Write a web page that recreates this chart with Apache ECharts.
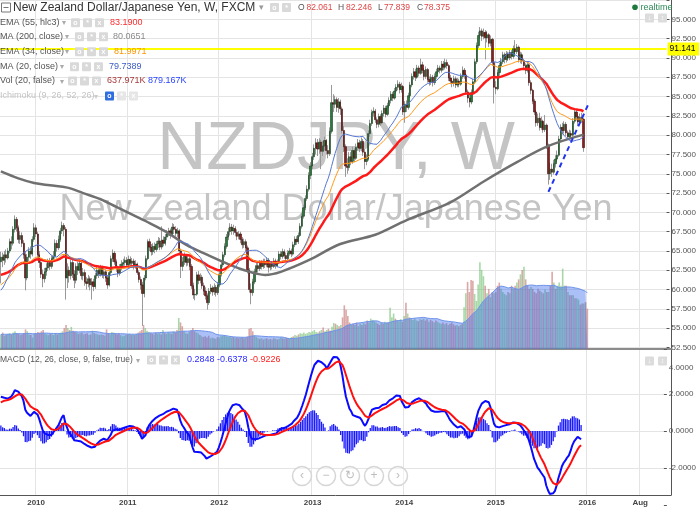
<!DOCTYPE html>
<html>
<head>
<meta charset="utf-8">
<script src="https://cdn.jsdelivr.net/npm/echarts@6/dist/echarts.min.js"></script>
<style>
html,body{margin:0;padding:0;background:#fff;}
#main{width:699px;height:507px;}
</style>
</head>
<body>
<div id="main"></div>
<script>
// weekly NZD/JPY, first bar = week of 2009-08-17
var startDate = Date.UTC(2009, 7, 17);
var nCats = 381;

var closes = [
  64.2,63.8,64.5,64.1,65.0,66.2,66.0,67.8,69.1,68.0,
  66.5,67.0,66.0,64.5,61.5,64.2,65.0,64.6,66.5,68.0,
  67.2,64.5,63.5,62.0,61.4,62.3,62.8,63.5,63.0,64.0,
  64.3,66.0,65.4,66.5,67.6,68.3,67.8,61.5,62.5,61.8,
  63.5,62.0,61.2,63.0,62.5,63.4,61.8,62.2,61.0,60.8,
  61.4,60.6,61.0,60.4,61.8,62.5,62.0,62.8,61.9,62.3,
  61.5,60.6,62.2,64.0,64.7,63.6,62.8,62.1,62.9,63.3,
  63.5,63.8,63.2,63.9,63.4,63.7,63.0,63.3,62.2,61.3,
  60.6,59.5,61.5,64.0,66.2,65.5,64.9,65.6,65.2,65.9,
  66.3,65.5,66.4,66.0,66.8,67.2,67.6,67.0,68.1,67.8,
  67.3,67.6,65.0,63.0,63.6,64.3,63.5,64.0,63.0,60.5,
  59.3,59.4,61.9,61.2,61.6,60.5,59.8,59.2,58.3,59.8,
  60.2,59.7,60.3,59.6,60.6,62.0,63.2,64.5,65.6,66.8,
  67.5,68.1,67.6,67.9,67.4,66.9,67.2,66.5,65.8,66.2,
  65.4,62.5,60.0,59.6,61.0,62.3,63.1,62.7,63.4,63.0,
  63.6,63.2,63.8,62.9,63.3,63.0,63.7,63.1,63.5,64.6,
  64.3,64.9,64.4,64.0,64.7,65.0,64.6,65.8,66.5,66.2,
  67.0,68.2,69.5,70.6,71.8,73.0,74.8,76.0,77.2,78.3,
  79.0,78.2,79.1,77.9,78.6,79.3,78.0,77.6,80.5,84.2,
  84.0,84.6,83.6,84.3,83.4,80.6,78.5,76.0,75.8,77.2,
  76.6,78.0,77.0,78.4,79.0,78.3,79.2,77.8,76.6,76.9,
  80.2,81.5,82.9,83.1,82.0,81.4,82.4,81.6,82.8,83.5,
  82.7,83.8,84.5,85.3,84.8,85.7,86.2,86.6,85.9,86.3,
  83.0,84.0,83.6,85.1,86.5,87.6,88.2,87.5,88.7,88.0,
  89.1,88.4,87.6,88.5,87.2,86.9,87.5,86.8,87.6,88.2,
  88.7,88.4,89.2,88.8,89.4,89.0,87.4,87.0,86.7,87.3,
  86.5,87.0,86.6,87.6,88.4,87.8,85.6,84.8,84.3,85.5,
  86.9,89.5,91.6,92.9,93.5,92.8,93.3,92.6,93.0,91.9,
  92.4,89.4,86.2,86.0,88.1,89.0,89.5,90.4,89.8,90.5,
  90.0,90.7,90.2,91.2,90.8,91.4,89.8,90.4,89.6,89.0,
  88.4,89.1,86.8,85.8,84.4,83.0,81.6,82.2,81.0,81.8,
  80.7,81.3,78.6,75.0,75.6,75.2,76.3,76.9,77.4,79.5,
  81.0,80.6,81.4,80.3,79.8,80.2,80.0,81.8,83.0,82.4,
  81.7,82.3,82.061,78.375
];
var highs = [
  64.9,64.8,65.0,65.2,65.4,66.6,66.9,68.2,69.6,69.4,
  68.3,67.6,67.4,66.4,64.9,64.6,65.5,65.6,66.9,68.6,
  68.4,67.5,65.0,63.9,62.6,62.8,63.4,64.0,64.1,64.4,
  65.0,66.5,66.4,67.0,68.0,68.8,68.6,68.1,63.4,63.0,
  63.9,64.0,62.5,63.4,63.6,63.9,63.7,62.8,62.6,61.6,
  61.9,61.7,61.5,61.4,62.2,63.0,62.9,63.2,63.1,62.8,
  62.6,61.9,62.6,64.4,65.2,65.0,63.9,63.1,63.3,63.8,
  64.0,64.3,64.2,64.4,64.3,64.1,64.0,63.8,63.5,62.5,
  61.7,61.0,61.9,64.4,66.5,66.6,65.9,66.0,66.1,66.3,
  66.8,66.7,68.2,66.9,67.2,67.7,68.0,67.9,68.6,68.5,
  68.2,68.0,67.8,65.3,64.2,64.8,64.6,64.5,64.3,63.3,
  60.9,60.1,62.3,62.4,62.1,61.9,60.9,60.3,59.5,60.2,
  60.7,60.5,60.8,60.6,61.0,62.4,63.6,64.9,66.0,67.2,
  68.0,68.6,68.5,68.4,68.2,67.8,67.6,67.5,66.8,66.6,
  66.5,65.7,62.8,60.8,61.4,62.7,63.5,63.5,63.8,63.8,
  64.0,64.0,64.2,64.1,63.7,63.7,64.1,64.0,63.9,65.0,
  65.0,65.3,65.2,64.8,65.1,65.4,65.3,66.2,66.9,66.9,
  67.4,68.6,69.9,71.0,72.2,73.5,75.2,76.5,77.7,78.8,
  79.6,79.5,79.6,79.4,79.2,79.8,79.5,78.7,81.0,86.5,
  85.3,85.1,84.9,84.8,84.6,83.7,81.2,78.8,77.0,77.8,
  77.8,78.5,78.3,78.9,79.5,79.4,79.7,79.5,78.2,77.5,
  80.6,82.0,83.3,83.6,83.4,82.3,82.8,82.7,83.2,83.9,
  83.8,84.2,84.9,85.7,85.6,86.1,86.6,87.1,86.9,86.8,
  86.5,84.4,84.5,85.5,86.9,88.0,88.7,88.6,89.1,89.0,
  89.9,89.5,88.7,88.9,88.7,87.6,87.9,87.8,88.0,88.6,
  89.1,89.0,89.6,89.6,89.9,89.8,89.2,87.8,87.4,87.7,
  87.6,87.4,87.3,88.0,88.9,88.7,88.0,85.9,85.2,85.9,
  87.3,89.9,92.0,93.4,94.0,93.8,93.8,93.6,93.5,93.2,
  92.9,92.6,89.7,87.0,88.5,89.4,90.0,90.8,90.7,90.9,
  90.8,91.1,91.0,91.6,92.3,91.8,91.6,90.8,90.7,89.9,
  89.3,89.5,89.3,87.1,86.0,84.7,83.3,82.8,82.9,82.4,
  82.0,82.6,81.5,78.9,76.4,76.3,76.8,77.4,78.0,79.9,
  81.4,81.6,81.8,81.7,80.6,80.7,80.6,82.2,83.4,83.3,
  82.7,82.8,82.9,82.246
];
var lows = [
  60.8,62.9,63.2,63.5,63.9,64.7,65.2,65.7,67.4,67.5,
  66.0,65.9,65.5,64.0,59.9,61.2,63.7,64.0,64.3,66.2,
  66.8,64.1,62.8,61.5,60.3,60.9,61.8,62.4,62.5,62.7,
  63.6,64.0,64.9,65.1,66.2,67.2,66.9,58.7,60.2,60.9,
  61.3,61.5,60.2,60.8,61.9,62.1,61.3,61.2,60.5,60.0,
  60.3,59.9,58.7,59.8,60.1,61.4,61.5,61.7,61.5,61.4,
  61.0,60.1,60.4,61.9,63.6,63.2,62.3,61.6,61.8,62.5,
  62.9,63.1,62.8,62.9,63.0,63.0,62.6,62.7,61.9,60.9,
  60.0,55.3,59.0,61.2,63.8,65.0,64.4,64.5,64.7,64.9,
  65.4,65.1,65.2,65.6,65.7,66.4,66.9,66.6,66.8,67.2,
  66.9,66.8,64.5,61.5,62.4,63.2,63.0,63.1,62.5,60.1,
  58.8,58.6,59.2,60.7,60.8,60.1,59.3,58.7,57.4,58.0,
  59.4,59.2,59.3,59.1,59.3,60.3,61.7,62.9,64.2,65.3,
  66.4,67.0,67.1,67.1,66.9,66.4,66.5,66.0,65.3,65.4,
  64.9,62.1,59.6,58.1,59.2,60.7,61.9,62.2,62.4,62.6,
  62.7,62.8,62.9,62.2,62.5,62.6,62.8,62.7,62.9,63.3,
  63.9,64.0,64.0,63.6,63.8,64.4,64.2,64.4,65.5,65.8,
  65.9,66.8,67.9,69.2,70.3,71.5,72.7,74.3,75.6,76.8,
  77.5,77.3,77.6,75.6,77.3,78.0,77.5,77.0,77.3,80.2,
  83.0,83.5,83.0,82.9,82.6,80.2,77.8,74.6,75.0,75.4,
  76.1,76.3,76.5,76.8,78.0,77.8,77.9,77.3,75.6,76.1,
  76.7,79.8,81.2,82.4,81.6,80.9,81.0,81.2,81.4,82.4,
  82.3,82.5,83.5,84.1,84.4,84.6,85.4,85.8,85.4,85.5,
  82.6,81.6,83.0,83.3,84.8,86.2,87.2,87.0,87.3,87.6,
  87.8,88.0,87.1,87.3,86.8,86.4,86.5,86.3,86.5,87.3,
  87.9,88.0,88.1,88.4,88.5,88.6,87.0,86.6,86.2,86.3,
  86.1,86.2,86.2,86.4,87.3,87.3,85.2,84.2,83.6,84.0,
  85.2,86.6,89.2,91.3,92.5,92.2,92.4,89.8,92.0,91.4,
  91.5,89.0,84.1,85.3,85.8,87.7,88.6,89.2,89.3,89.4,
  89.6,89.7,89.8,89.9,90.4,90.5,89.4,89.3,89.2,88.6,
  87.9,88.1,86.4,85.3,84.0,82.6,81.1,81.2,80.6,80.7,
  80.3,80.4,78.2,73.6,74.2,74.6,74.9,75.8,76.5,77.2,
  79.2,80.1,80.2,79.9,79.4,79.5,79.6,79.8,81.5,81.9,
  81.2,81.4,81.6,77.839
];
// volume in thousands
var volumes = [
  230,260,210,220,240,250,230,260,280,250,240,220,230,250,310,280,230,220,180,240,
  250,270,260,280,300,240,230,220,240,230,220,250,230,240,260,280,330,380,330,300,
  350,290,270,260,240,250,260,230,240,250,220,230,290,250,240,230,220,230,220,210,
  310,240,230,270,260,240,230,250,220,200,210,220,230,240,220,230,220,240,260,280,
  300,380,330,290,270,250,240,230,260,240,250,230,300,250,240,260,250,240,280,260,
  300,490,420,360,280,250,240,270,300,330,280,260,250,220,200,190,200,180,210,170,
  180,170,160,190,180,200,210,220,200,190,200,180,190,170,180,170,180,190,170,180,
  200,320,330,280,220,190,170,160,170,150,160,170,150,160,150,170,160,150,160,180,
  170,160,180,170,160,190,200,220,210,230,250,240,260,240,250,270,260,280,300,270,
  260,280,300,340,280,300,320,290,350,410,400,380,360,380,500,690,620,520,420,380,
  400,380,420,360,400,380,410,390,450,420,480,460,440,420,400,380,420,400,430,410,
  420,650,500,560,480,450,440,470,430,520,730,560,500,470,460,480,450,440,470,460,
  480,450,470,430,460,440,420,450,430,410,400,420,390,410,380,400,420,390,370,380,
  360,380,400,660,880,1060,900,1090,1080,870,760,1020,1370,1250,1150,1000,880,950,820,900,
  880,900,1000,1050,950,900,870,850,900,880,1000,950,1000,1050,1100,1180,1250,1300,1100,1000,
  950,980,950,900,880,950,920,900,880,940,900,900,1000,1220,1050,950,1000,1050,1000,1270,
  1000,1000,900,850,850,850,800,800,780,700,720,720,740,638
];
// 19 weekly closes before the first bar, only used to start the MA(20)
var preCloses = [58.0,56.5,54.5,55.5,58.0,56.5,57.0,59.5,61.5,62.0,60.5,61.0,61.0,58.5,61.0,62.0,63.0,64.5,63.6];
// indicator levels at the first bar
var ema55Start = 61.9, ema34Start = 60.6;
var ema12Start = 62.7, ema26Start = 60.85, signalStart = 1.55;
// MA(200)
var ma200Idx = [0,10,19,28,38,47,57,66,76,85,95,106,119,129,138,151,160,176,194,214,232,257,276,295,313,333];
var ma200Val = [75.3,74.4,73.8,73.5,73.2,72.5,71.7,70.7,69.6,68.6,67.4,65.8,64.4,63.4,62.6,61.9,62.3,63.8,65.9,67.1,69.0,71.3,74.0,76.5,78.6,80.07];
// hand drawn trend line
var trendIdx = [313, 336];
var trendVal = [72.66, 84.1];

var cats = [];
for (var i = 0; i < nCats; i++) {
  cats.push(new Date(startDate + i * 7 * 864e5).toISOString().slice(0, 10));
}
var firstOpen = preCloses[preCloses.length - 1];
var opens = closes.map(function (c, i) { return i === 0 ? firstOpen : closes[i - 1]; });

function ema(src, n, start) {
  var k = 2 / (n + 1), v = start, out = [];
  for (var i = 0; i < src.length; i++) {
    if (i > 0) v = v + k * (src[i] - v);
    out.push(v);
  }
  return out;
}
var hlc3 = closes.map(function (c, i) { return (highs[i] + lows[i] + c) / 3; });
var ema55 = ema(hlc3, 55, ema55Start);
var ema34 = ema(closes, 34, ema34Start);
var all = preCloses.concat(closes);
var ma20 = closes.map(function (c, i) {
  var s = 0;
  for (var j = i; j < i + 20; j++) s += all[j];
  return s / 20;
});
var e12 = ema(closes, 12, ema12Start), e26 = ema(closes, 26, ema26Start);
var macd = e12.map(function (v, i) { return v - e26[i]; });
var signal = ema(macd, 9, signalStart);
var hist = macd.map(function (v, i) { return v - signal[i]; });
var volMa = volumes.map(function (v, i) {
  var s = 0, n = 0;
  for (var j = Math.max(0, i - 19); j <= i; j++) { s += volumes[j]; n++; }
  return s / n;
});

function isTick(idx) {
  if (idx <= 0 || idx >= cats.length) return false;
  if (cats[idx].slice(0, 4) !== cats[idx - 1].slice(0, 4)) return true;
  return cats[idx].slice(0, 7) === '2016-08' && cats[idx - 1].slice(0, 7) !== '2016-08';
}

var font = 'Liberation Sans, Arial, sans-serif';
var gfx = [];
function T(x, y, s, color, size, opt) {
  var st = { text: s, fill: color, fontSize: size, fontFamily: font, verticalAlign: 'middle', align: 'left' };
  if (opt) for (var k in opt) st[k] = opt[k];
  gfx.push({ type: 'text', x: x, y: y, z: 100, silent: true, style: st });
}
function B(x, y, fill, glyph) {
  gfx.push({ type: 'rect', z: 100, silent: true, shape: { x: x, y: y - 4.5, width: 9, height: 9, r: 1 }, style: { fill: fill } });
  T(x + 4.5, y + 0.5, glyph, '#fff', 7, { align: 'center', fontWeight: 'bold' });
}

// watermark
T(336, 150, 'NZDJPY, W', '#c4c4c4', 68, { align: 'center' });
T(336, 210, 'New Zealand Dollar/Japanese Yen', '#c4c4c4', 36, { align: 'center' });
gfx[0].z = 1; gfx[1].z = 1;

// title row
gfx.push({ type: 'rect', z: 100, silent: true, shape: { x: 1.5, y: 3, width: 9, height: 9 }, style: { fill: '#fff', stroke: '#777', lineWidth: 1 } });
gfx.push({ type: 'line', z: 100, silent: true, shape: { x1: 3.5, y1: 7.5, x2: 8.5, y2: 7.5 }, style: { stroke: '#777', lineWidth: 1 } });
T(13, 7.5, 'New Zealand Dollar/Japanese Yen, W, FXCM', '#333', 12);
T(259, 8, '▾', '#999', 9);
B(270, 7.5, '#d9d9d9', 'o');
B(282, 7.5, '#d9d9d9', '*');
T(298, 8, 'O', '#555', 8.5); T(306.5, 8, '82.061', '#e04545', 8.5);
T(338, 8, 'H', '#555', 8.5); T(346, 8, '82.246', '#e04545', 8.5);
T(378, 8, 'L', '#555', 8.5); T(384, 8, '77.839', '#e04545', 8.5);
T(417, 8, 'C', '#555', 8.5); T(424, 8, '78.375', '#e04545', 8.5);

// indicator legend
var rows = [
  [22.7, 'EMA (55, hlc3)', 62, 71, [[110, '83.1900', '#ff2b2b']]],
  [36.7, 'MA (200, close)', 65, 75, [[113, '80.0651', '#8a8a8a']]],
  [51.7, 'EMA (34, close)', 65, 75, [[114, '81.9971', '#ff9500']]],
  [66.7, 'MA (20, close)', 60, 70, [[109, '79.7389', '#3b5cc4']]],
  [81, 'Vol (20, false)', 60, 68, [[107, '637.971K', '#a83a3a'], [148, '879.167K', '#2a44ff']]]
];
rows.forEach(function (r) {
  T(0, r[0], r[1], '#555', 9);
  T(r[2], r[0] + 0.5, '▾', '#aaa', 8);
  B(r[3], r[0], '#d9d9d9', 'o');
  B(r[3] + 12, r[0], '#d9d9d9', '*');
  B(r[3] + 24, r[0], '#d9d9d9', 'x');
  r[4].forEach(function (v) { T(v[0], r[0], v[1], v[2], 9); });
});
T(0, 96, 'Ichimoku (9, 26, 52, 26)', '#c4c4c4', 9);
T(94, 96.5, '▾', '#ccc', 8);
B(105, 96, '#2f6de0', 'o');
B(117, 96, '#e6e6e6', '*');
B(129, 96, '#e6e6e6', 'x');

// realtime
gfx.push({ type: 'circle', z: 100, silent: true, shape: { cx: 635, cy: 7.3, r: 2.8 }, style: { fill: '#1d7a3c' } });
T(640.5, 7.5, 'realtime', '#2e8b57', 9);
B(645, 18, '#dcdcdc', '↓');
B(658, 18, '#dcdcdc', '↕');

// MACD header
T(0, 360, 'MACD (12, 26, close, 9, false, true)', '#555', 8.5);
T(136, 360.5, '▾', '#aaa', 8);
B(147, 360, '#d9d9d9', 'o');
B(159, 360, '#d9d9d9', '*');
B(171, 360, '#d9d9d9', 'x');
T(187, 360, '0.2848', '#2a2aff', 9);
T(217, 360, '-0.6378', '#2a2aff', 9);
T(250, 360, '-0.9226', '#ff2020', 9);
B(645, 361, '#dcdcdc', '↓');
B(658, 361, '#dcdcdc', '↕');

// zoom buttons
[[302, '‹'], [326, '−'], [350, '↻'], [374, '+'], [398, '›']].forEach(function (b) {
  gfx.push({ type: 'circle', z: 100, silent: true, shape: { cx: b[0], cy: 476, r: 9.5 }, style: { fill: 'rgba(255,255,255,0.5)', stroke: '#d6d6d6', lineWidth: 1.5 } });
  T(b[0], 476, b[1], '#bdbdbd', 12, { align: 'center' });
});

var L = -0.5, R = 28;
var chart = echarts.init(document.getElementById('main'));
chart.setOption({
  animation: false,
  backgroundColor: '#fff',
  textStyle: { fontFamily: font },
  grid: [
    { left: L, right: R, top: -13.4, height: 360.9 },
    { left: L, right: R, top: 249, height: 100 },
    { left: L, right: R, top: 349.6, height: 155.4 },
    { left: L, right: R, top: 0, height: 496 }
  ],
  xAxis: [
    { type: 'category', gridIndex: 0, data: cats, show: false },
    { type: 'category', gridIndex: 1, data: cats,
      axisLine: { show: true, lineStyle: { color: '#8c8c8c', width: 2 } },
      axisTick: { show: false }, axisLabel: { show: false }, splitLine: { show: false } },
    { type: 'category', gridIndex: 2, data: cats, show: false },
    { type: 'category', gridIndex: 3, data: cats,
      axisLine: { lineStyle: { color: '#555' } },
      axisTick: { interval: isTick, length: 4, lineStyle: { color: '#555' } },
      axisLabel: { interval: isTick, color: '#444', fontSize: 8, fontWeight: 'bold', margin: 4,
        formatter: function (v) { return v.slice(5, 7) === '08' ? 'Aug' : v.slice(0, 4); } },
      splitLine: { show: true, interval: isTick, lineStyle: { color: '#e4e4e4' } } }
  ],
  yAxis: [
    { type: 'value', gridIndex: 0, position: 'right', min: 52.5, max: 97.5, interval: 2.5,
      axisLine: { show: false },
      axisTick: { show: true, length: 3, lineStyle: { color: '#555' } },
      axisLabel: { color: '#555', fontSize: 8, margin: 5,
        formatter: function (v) { return v > 97 ? '' : v.toFixed(3); } },
      splitLine: { lineStyle: { color: '#e4e4e4' } } },
    { type: 'value', gridIndex: 1, min: 0, max: 1580, show: false },
    { type: 'value', gridIndex: 2, position: 'right', min: -4, max: 4.4, interval: 2,
      axisLine: { show: false },
      axisTick: { show: true, length: 3, lineStyle: { color: '#555' } },
      axisLabel: { color: '#555', fontSize: 8, margin: 5,
        formatter: function (v) {
          if (Math.abs(v - 4) < 1e-6) return '{dn|4.0000}';
          if (v < -3 || v > 4.2) return '';
          return v.toFixed(4);
        },
        rich: { dn: { padding: [21, 0, 0, 0], fontSize: 8, color: '#555' } } },
      splitLine: { lineStyle: { color: ['rgba(0,0,0,0)', '#e4e4e4', '#e4e4e4', '#e4e4e4', 'rgba(0,0,0,0)', 'rgba(0,0,0,0)'] } } },
    { type: 'value', gridIndex: 3, position: 'right', min: 0, max: 1,
      axisLine: { show: true, lineStyle: { color: '#555' } },
      axisTick: { show: false }, axisLabel: { show: false }, splitLine: { show: false } }
  ],
  graphic: gfx,
  series: [
    {
      name: 'vol', type: 'bar', xAxisIndex: 1, yAxisIndex: 1, barWidth: 1.6, z: 2,
      data: volumes.map(function (v, i) {
        return { value: v, itemStyle: { color: closes[i] >= opens[i] ? 'rgba(110,190,110,0.6)' : 'rgba(200,120,120,0.65)' } };
      })
    },
    {
      name: 'vol ma', type: 'line', xAxisIndex: 1, yAxisIndex: 1, symbol: 'none', z: 3,
      data: volMa,
      lineStyle: { color: '#6f93e8', width: 1 },
      areaStyle: { color: 'rgba(60,110,235,0.62)' }
    },
    {
      name: 'wick', type: 'candlestick', xAxisIndex: 0, yAxisIndex: 0, barWidth: 1, z: 4,
      data: opens.map(function (o, i) { return [o, closes[i], lows[i], highs[i]]; }),
      itemStyle: { color: '#999', color0: '#999', borderColor: '#999', borderColor0: '#999', borderWidth: 1 }
    },
    {
      name: 'body', type: 'candlestick', xAxisIndex: 0, yAxisIndex: 0, barWidth: 1.7, z: 5,
      data: opens.map(function (o, i) {
        return [o, closes[i], Math.min(o, closes[i]), Math.max(o, closes[i])];
      }),
      itemStyle: { color: '#2a7a3c', color0: '#8a1f1f', borderColor: '#17401f', borderColor0: '#3f0d0d', borderWidth: 0.6 },
      markLine: {
        silent: true, symbol: ['none', 'none'], animation: false,
        data: [
          { yAxis: 91.141, lineStyle: { color: '#ffff00', width: 2, type: 'solid' },
            label: { position: 'end', distance: 1, formatter: '91.141', color: '#000', backgroundColor: '#ffff00', padding: [2, 4, 2, 2], fontSize: 8.5 } },
          { yAxis: 78.375, lineStyle: { opacity: 0 },
            label: { position: 'end', distance: 1, formatter: '78.375', color: '#fff', backgroundColor: '#cc2a2a', padding: [2, 4, 2, 2], fontSize: 8.5 } }
        ]
      }
    },
    {
      name: 'MA200', type: 'line', xAxisIndex: 0, yAxisIndex: 0, symbol: 'none', smooth: 0.35, z: 6,
      data: ma200Idx.map(function (x, i) { return [x, ma200Val[i]]; }),
      lineStyle: { color: '#707070', width: 2.5 }
    },
    {
      name: 'EMA55', type: 'line', xAxisIndex: 0, yAxisIndex: 0, symbol: 'none', z: 7,
      data: ema55, lineStyle: { color: '#ff1a1a', width: 2.5 }
    },
    {
      name: 'EMA34', type: 'line', xAxisIndex: 0, yAxisIndex: 0, symbol: 'none', z: 7,
      data: ema34, lineStyle: { color: '#ff9a1a', width: 1 }
    },
    {
      name: 'MA20', type: 'line', xAxisIndex: 0, yAxisIndex: 0, symbol: 'none', z: 7,
      data: ma20, lineStyle: { color: '#5677d2', width: 1 }
    },
    {
      name: 'trend', type: 'line', xAxisIndex: 0, yAxisIndex: 0, symbol: 'none', z: 8,
      data: trendIdx.map(function (x, i) { return [x, trendVal[i]]; }),
      lineStyle: { color: '#2233ee', width: 2, type: [5, 4] }
    },
    {
      name: 'hist', type: 'bar', xAxisIndex: 2, yAxisIndex: 2, barWidth: 1.3, z: 3,
      data: hist, itemStyle: { color: '#1a1aff' }
    },
    {
      name: 'MACD', type: 'line', xAxisIndex: 2, yAxisIndex: 2, symbol: 'none', z: 4,
      data: macd, lineStyle: { color: '#0a0aff', width: 2 }
    },
    {
      name: 'signal', type: 'line', xAxisIndex: 2, yAxisIndex: 2, symbol: 'none', z: 5,
      data: signal, lineStyle: { color: '#ff1010', width: 2 }
    }
  ]
});
</script>
</body>
</html>
